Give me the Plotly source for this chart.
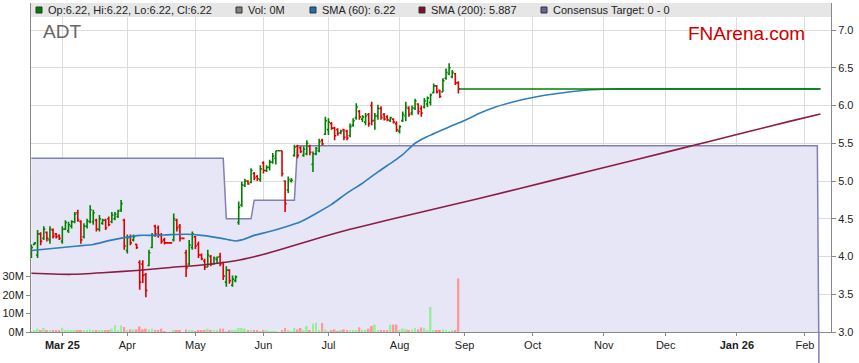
import pandas as pd
import plotly.graph_objects as go

# ---------------- data ----------------
bar_dates = pd.bdate_range("2025-02-17", "2025-08-28")      # traded days (139)
all_dates = pd.bdate_range("2025-02-17", "2026-02-09")      # incl. projected days

opens = [4.00, 4.16, 4.02, 4.30, 4.24, 4.32, 4.22, 4.35, 4.30, 4.28,
         4.20, 4.36, 4.34, 4.40, 4.46, 4.58, 4.46, 4.26, 4.40, 4.46,
         4.46, 4.48, 4.36, 4.44, 4.48, 4.50, 4.46, 4.50, 4.53, 4.62,
         4.48, 4.08, 4.26, 4.22, 4.16, 3.92, 3.90, 3.76, 3.88, 4.12,
         4.40, 4.38, 4.28, 4.22, 4.18, 4.18, 4.22, 4.48, 4.40, 4.24,
         4.05, 3.90, 4.12, 4.26, 4.16, 4.02, 3.94, 3.86, 4.00, 3.90,
         3.96, 4.00, 3.92, 3.66, 3.82, 3.62, 3.68, 4.45, 4.68, 4.94,
         5.00, 4.98, 5.10, 5.06, 5.02, 5.24, 5.14, 5.18, 5.25, 5.30,
         5.40, 5.40, 5.00, 4.88, 5.00, 5.34, 5.46, 5.44, 5.34, 5.36,
         5.46, 5.22, 5.36, 5.40, 5.54, 5.62, 5.68, 5.76, 5.70, 5.68,
         5.64, 5.68, 5.66, 5.60, 5.74, 5.84, 5.92, 5.82, 5.78, 5.88,
         6.00, 5.80, 5.86, 5.96, 5.88, 5.85, 5.80, 5.82, 5.76, 5.66,
         5.80, 5.86, 5.96, 5.90, 5.96, 6.02, 5.96, 5.98, 6.02, 6.04,
         6.17, 6.26, 6.20, 6.18, 6.36, 6.42, 6.38, 6.42, 6.30]
highs = [4.16, 4.19, 4.35, 4.32, 4.40, 4.33, 4.40, 4.37, 4.31, 4.29,
         4.40, 4.48, 4.46, 4.48, 4.59, 4.62, 4.48, 4.44, 4.50, 4.68,
         4.62, 4.50, 4.55, 4.50, 4.50, 4.53, 4.59, 4.59, 4.62, 4.75,
         4.50, 4.29, 4.29, 4.29, 4.17, 3.95, 3.95, 3.78, 4.09, 4.31,
         4.42, 4.41, 4.31, 4.25, 4.18, 4.18, 4.57, 4.50, 4.43, 4.24,
         4.09, 4.22, 4.33, 4.27, 4.20, 4.04, 3.97, 4.09, 4.02, 4.00,
         4.00, 4.05, 3.93, 3.87, 3.83, 3.75, 3.75, 4.73, 4.99, 5.03,
         5.01, 5.17, 5.12, 5.08, 5.21, 5.26, 5.21, 5.28, 5.37, 5.40,
         5.40, 5.40, 5.01, 5.06, 5.04, 5.48, 5.48, 5.46, 5.46, 5.54,
         5.48, 5.39, 5.45, 5.56, 5.56, 5.85, 5.83, 5.78, 5.72, 5.70,
         5.68, 5.69, 5.68, 5.76, 5.83, 6.03, 5.94, 5.87, 5.90, 5.90,
         6.05, 5.90, 6.01, 5.99, 5.90, 5.87, 5.85, 5.83, 5.79, 5.74,
         5.92, 6.05, 5.99, 6.00, 6.09, 6.03, 6.00, 6.10, 6.12, 6.16,
         6.29, 6.27, 6.21, 6.36, 6.49, 6.56, 6.47, 6.43, 6.32]
lows = [3.98, 4.15, 3.98, 4.15, 4.22, 4.20, 4.17, 4.24, 4.24, 4.22,
        4.17, 4.35, 4.31, 4.37, 4.44, 4.46, 4.17, 4.24, 4.37, 4.44,
        4.42, 4.33, 4.33, 4.42, 4.35, 4.40, 4.44, 4.48, 4.51, 4.59,
        4.09, 4.04, 4.15, 4.20, 4.10, 3.56, 3.65, 3.46, 3.87, 4.11,
        4.26, 4.25, 4.17, 4.16, 4.18, 4.18, 4.20, 4.33, 4.20, 4.24,
        3.73, 3.88, 4.09, 4.10, 3.98, 3.95, 3.82, 3.86, 3.87, 3.89,
        3.91, 3.87, 3.69, 3.60, 3.64, 3.60, 3.66, 4.42, 4.66, 4.92,
        4.95, 4.97, 5.01, 5.00, 4.99, 5.10, 5.12, 5.14, 5.23, 5.22,
        5.40, 5.06, 4.59, 4.84, 4.98, 5.32, 5.30, 5.37, 5.32, 5.34,
        5.34, 5.12, 5.34, 5.38, 5.47, 5.61, 5.61, 5.68, 5.54, 5.60,
        5.62, 5.54, 5.54, 5.58, 5.72, 5.81, 5.81, 5.78, 5.74, 5.72,
        5.74, 5.68, 5.81, 5.81, 5.80, 5.79, 5.78, 5.76, 5.65, 5.63,
        5.78, 5.79, 5.85, 5.87, 5.94, 5.88, 5.85, 5.96, 5.98, 6.00,
        6.16, 6.16, 6.10, 6.18, 6.34, 6.40, 6.36, 6.27, 6.16]
closes = [4.12, 4.18, 4.30, 4.20, 4.36, 4.24, 4.36, 4.27, 4.26, 4.24,
          4.36, 4.45, 4.42, 4.46, 4.56, 4.48, 4.22, 4.40, 4.47, 4.62,
          4.58, 4.36, 4.50, 4.48, 4.38, 4.42, 4.55, 4.56, 4.60, 4.70,
          4.14, 4.25, 4.18, 4.26, 4.12, 3.66, 3.75, 3.55, 4.05, 4.28,
          4.30, 4.29, 4.20, 4.18, 4.18, 4.18, 4.50, 4.38, 4.24, 4.24,
          3.85, 4.15, 4.30, 4.14, 4.02, 3.97, 3.86, 4.02, 3.90, 3.98,
          3.99, 3.90, 3.74, 3.82, 3.68, 3.70, 3.73, 4.65, 4.95, 5.00,
          4.96, 5.14, 5.04, 5.03, 5.16, 5.14, 5.18, 5.25, 5.33, 5.40,
          5.40, 5.10, 4.70, 5.02, 5.01, 5.45, 5.34, 5.39, 5.42, 5.50,
          5.38, 5.36, 5.43, 5.52, 5.49, 5.80, 5.78, 5.70, 5.60, 5.63,
          5.66, 5.58, 5.57, 5.72, 5.80, 5.98, 5.85, 5.85, 5.86, 5.76,
          5.80, 5.86, 5.96, 5.84, 5.82, 5.81, 5.84, 5.78, 5.68, 5.72,
          5.88, 5.98, 5.88, 5.97, 6.06, 5.92, 5.90, 6.06, 6.10, 6.14,
          6.26, 6.18, 6.12, 6.33, 6.44, 6.50, 6.44, 6.30, 6.22]
volume_m = [0.5, 0.8, 1.8, 1.1, 2.2, 1.1, 1.1, 0.9, 0.6, 0.6,
            2.3, 1.1, 1.1, 0.6, 1.1, 1.1, 1.1, 1.1, 0.9, 1.4,
            0.6, 0.6, 0.9, 0.9, 0.9, 0.7, 1.8, 3.6, 0.9, 3.6,
            2.7, 1.1, 1.4, 1.4, 1.4, 3.0, 1.4, 1.8, 1.4, 1.8,
            0.6, 1.1, 1.8, 0.5, 0.0, 0.0, 1.0, 0.9, 0.7, 0.0,
            1.4, 0.9, 0.9, 0.5, 0.7, 0.7, 0.7, 1.8, 1.1, 0.9,
            0.9, 1.8, 1.8, 0.5, 0.7, 0.7, 0.9, 2.2, 2.2, 1.8,
            0.7, 0.9, 0.7, 0.7, 0.5, 0.7, 0.7, 0.5, 0.5, 0.5,
            0.0, 0.9, 2.2, 0.9, 0.5, 2.2, 1.4, 2.2, 0.9, 3.2,
            0.9, 4.5, 5.0, 0.9, 4.9, 1.4, 0.5, 0.9, 1.4, 0.5,
            0.7, 1.4, 1.1, 0.7, 0.9, 0.9, 2.5, 0.7, 0.9, 1.8,
            3.2, 4.0, 0.9, 0.7, 0.7, 0.9, 4.0, 4.0, 4.0, 0.7,
            1.8, 1.4, 1.1, 1.4, 2.2, 1.4, 2.5, 2.2, 1.0, 13.5,
            1.1, 0.7, 0.7, 1.4, 1.1, 0.5, 0.7, 0.9, 29.0]

last_close = 6.22

# SMA lines (day index into all_dates -> value)
sma60_idx = [0, 10, 15, 20, 25, 30, 35, 40, 45, 50, 55, 60, 64, 66, 68, 72, 77, 82, 87, 92,
             97, 102, 107, 112, 117, 120, 124, 127, 130, 135, 140, 145, 150, 155, 160, 165,
             170, 175, 180, 185, 190, 198, 255]
sma60_val = [4.08, 4.12, 4.14, 4.16, 4.21, 4.25, 4.28, 4.28, 4.29, 4.295, 4.28, 4.25, 4.22,
             4.205, 4.22, 4.28, 4.33, 4.39, 4.46, 4.57, 4.69, 4.84, 4.97, 5.12, 5.26, 5.35,
             5.50, 5.57, 5.625, 5.715, 5.80, 5.90, 5.98, 6.04, 6.09, 6.13, 6.16, 6.185,
             6.205, 6.215, 6.22, 6.22, 6.22]
sma200_idx = [0, 7, 13, 23, 34, 45, 56, 66, 72, 80, 90, 103, 120, 145, 170, 195, 220, 245, 255]
sma200_val = [3.778, 3.768, 3.764, 3.785, 3.815, 3.855, 3.89, 3.944, 3.997, 4.086, 4.21,
              4.36, 4.53, 4.771, 5.025, 5.279, 5.532, 5.79, 5.887]

# Consensus target (step levels)
target_idx = [0, 62, 63, 71, 72, 85, 86, 254, 255]
target_val = [5.30, 5.30, 4.50, 4.50, 4.745, 4.745, 5.466, 5.466, 0.0]

month_ticks = ["2025-03-03", "2025-04-01", "2025-05-01", "2025-06-02", "2025-07-01",
               "2025-08-01", "2025-09-01", "2025-10-01", "2025-11-03", "2025-12-01",
               "2026-01-01", "2026-02-02"]
month_labels = ["<b>Mar 25</b>", "Apr", "May", "Jun", "Jul", "Aug", "Sep", "Oct", "Nov",
                "Dec", "<b>Jan 26</b>", "Feb"]
price_ticks = [3.0, 3.5, 4.0, 4.5, 5.0, 5.5, 6.0, 6.5, 7.0]
vol_ticks = [0, 10e6, 20e6, 30e6]
vol_labels = ["0M", "10M", "20M", "30M"]

# ---------------- figure ----------------
W, H = 859, 363
ML, MR, MT, MB = 31, 28, 3, 31
PW, PH = W - ML - MR, H - MT - MB
P_MIN = 3.0
P_MAX = 3.0 + PH / 75.5
V_MAX = PH / 18.5 * 10e6


def px(x):
    return (x - ML) / PW


def py(y):
    return (H - MB - y) / PH


FONT = "Liberation Sans, Arial, sans-serif"
GREEN = "#008000"
RED = "#dd0000"
TGT_LINE = "#8080b4"

fig = go.Figure()

fig.add_trace(go.Scatter(
    x=[all_dates[i] for i in target_idx], y=target_val, mode="lines",
    line=dict(color=TGT_LINE, width=1.5), fill="tozeroy", fillcolor="#e6e6f6",
    yaxis="y", hoverinfo="skip"))

vol_colors = ["#99ee99" if c > o else ("#ff9999" if c < o else "#888888")
              for o, c in zip(opens, closes)]
fig.add_trace(go.Bar(
    x=bar_dates, y=[v * 1e6 for v in volume_m], marker=dict(color=vol_colors, line=dict(width=0)),
    width=0.6 * 86400000, yaxis="y2", hoverinfo="skip"))

fig.add_trace(go.Scatter(
    x=[all_dates[i] for i in sma60_idx], y=sma60_val, mode="lines",
    line=dict(color="#2f7dbd", width=1.6, shape="spline", smoothing=0.6),
    yaxis="y3", hoverinfo="skip"))
fig.add_trace(go.Scatter(
    x=[all_dates[i] for i in sma200_idx], y=sma200_val, mode="lines",
    line=dict(color="#8c1c44", width=1.6, shape="spline", smoothing=0.6),
    yaxis="y3", hoverinfo="skip"))

fig.add_trace(go.Ohlc(
    x=bar_dates, open=opens, high=highs, low=lows, close=closes,
    increasing=dict(line=dict(color=GREEN, width=1.6)),
    decreasing=dict(line=dict(color=RED, width=1.6)),
    tickwidth=0.5, yaxis="y3", hoverinfo="skip"))

fig.add_trace(go.Scatter(
    x=[all_dates[len(bar_dates) - 1], all_dates[-1]], y=[last_close, last_close], mode="lines",
    line=dict(color=GREEN, width=1.5), yaxis="y3", hoverinfo="skip"))

shapes = []
annotations = []
# legend bar
shapes.append(dict(type="rect", xref="paper", yref="paper", x0=0, x1=1, y0=py(17), y1=1,
                   fillcolor="#e6e6e6", line=dict(width=0), layer="above"))
legend_items = [
    (36, GREEN, "Op:6.22, Hi:6.22, Lo:6.22, Cl:6.22"),
    (236, "#808080", "Vol: 0M"),
    (310, "#1f6fb0", "SMA (60): 6.22"),
    (419, "#80102e", "SMA (200): 5.887"),
    (541, "#666699", "Consensus Target: 0 - 0"),
]
for x0, col, txt in legend_items:
    shapes.append(dict(type="rect", xref="paper", yref="paper", x0=px(x0), x1=px(x0 + 6),
                       y0=py(13), y1=py(7), fillcolor=col, line=dict(color="#333333", width=1),
                       layer="above"))
    annotations.append(dict(xref="paper", yref="paper", x=px(x0 + 10), y=py(10), text=txt,
                            showarrow=False, xanchor="left", yanchor="middle",
                            font=dict(family=FONT, size=11, color="#222222")))
annotations.append(dict(xref="paper", yref="paper", x=px(41), y=py(31.5), text="ADT",
                        showarrow=False, xanchor="left", yanchor="middle",
                        font=dict(family=FONT, size=19, color="#666666")))
annotations.append(dict(xref="paper", yref="paper", x=px(686), y=py(33.5), text="FNArena.com",
                        showarrow=False, xanchor="left", yanchor="middle",
                        font=dict(family=FONT, size=19, color="#cc0000")))
# target drop line continuing below the axis
drop_x = all_dates[target_idx[-2]] + pd.Timedelta(hours=12)
shapes.append(dict(type="line", xref="x", yref="paper", x0=drop_x, x1=drop_x,
                   y0=0, y1=-(MB) / PH, line=dict(color=TGT_LINE, width=1.5)))

fig.update_layout(
    width=W, height=H, margin=dict(l=ML, r=MR, t=MT, b=MB),
    paper_bgcolor="white", plot_bgcolor="white", showlegend=False, hovermode=False,
    font=dict(family=FONT, size=11, color="#222222"),
    xaxis=dict(type="date", range=["2025-02-14 21:00", "2026-02-12 10:00"],
               rangebreaks=[dict(bounds=["sat", "mon"])],
               tickmode="array", tickvals=month_ticks, ticktext=month_labels,
               ticks="outside", ticklen=3, tickcolor="#888888",
               showgrid=True, gridcolor="#dcdcdc", gridwidth=1,
               showline=True, linecolor="#888888", linewidth=1,
               rangeslider=dict(visible=False), tickfont=dict(size=11),
               automargin=False),
    yaxis=dict(side="right", range=[P_MIN, P_MAX], tickmode="array", tickvals=price_ticks,
               tickformat=".1f", ticks="outside", ticklen=4, tickcolor="#888888",
               showgrid=True, gridcolor="#dcdcdc", showline=True, linecolor="#888888",
               zeroline=False, tickfont=dict(size=11), automargin=False),
    yaxis2=dict(overlaying="y", side="left", range=[0, V_MAX], tickmode="array",
                tickvals=vol_ticks, ticktext=vol_labels, ticks="outside", ticklen=4,
                tickcolor="#888888", showgrid=False, showline=True, linecolor="#888888",
                zeroline=False, tickfont=dict(size=11), automargin=False),
    yaxis3=dict(overlaying="y", range=[P_MIN, P_MAX], visible=False, showgrid=False,
                zeroline=False),
    shapes=shapes, annotations=annotations,
)

fig.write_html("out.html", config={"displayModeBar": False},
               post_script="document.body.style.margin='0px';")
